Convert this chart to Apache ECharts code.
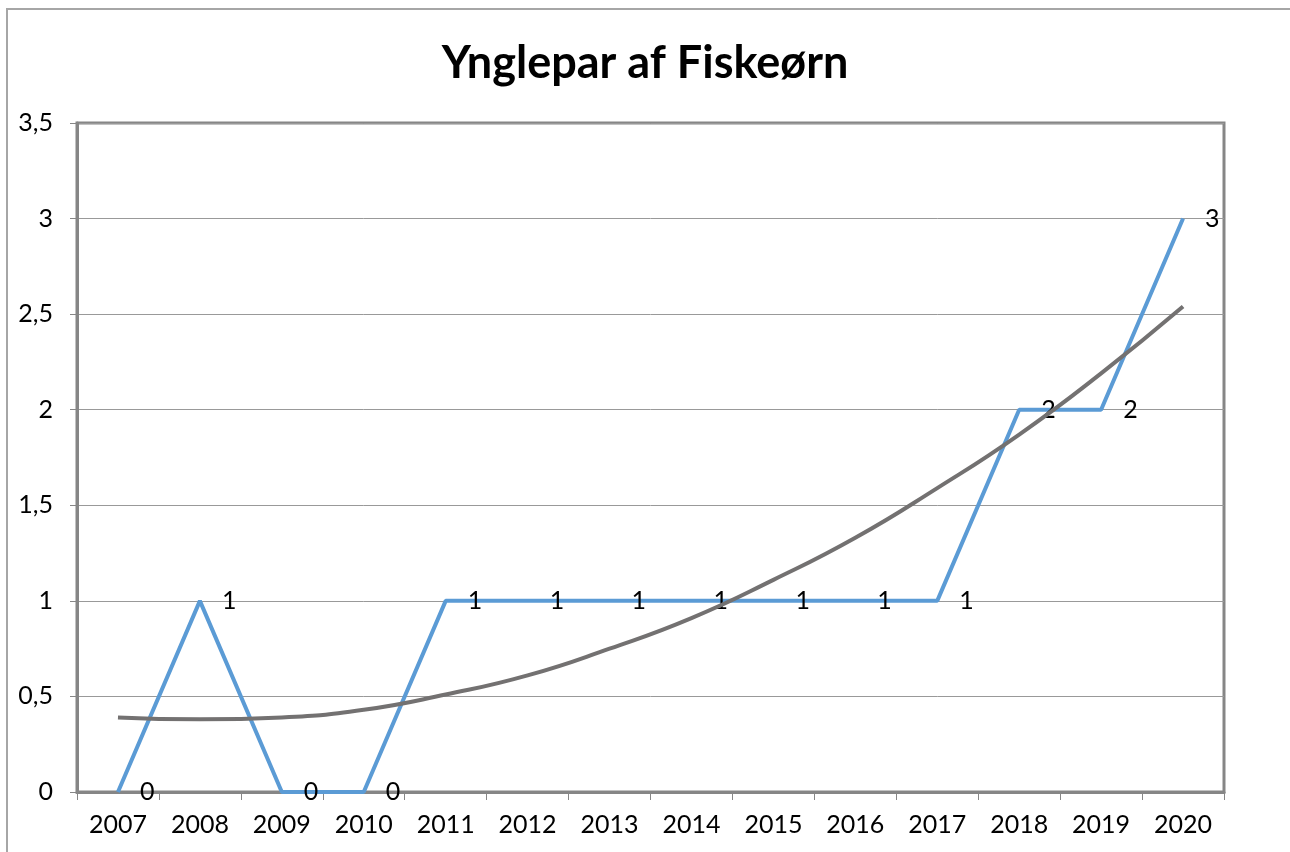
<!DOCTYPE html>
<html>
<head>
<meta charset="utf-8">
<title>Ynglepar af Fiskeørn</title>
<script src="https://cdn.jsdelivr.net/npm/echarts@6/dist/echarts.min.js"></script>
<style>
  html, body { margin: 0; padding: 0; background: #fff; }
  #main { width: 1290px; height: 852px; }
</style>
</head>
<body>
<div id="main"></div>
<script>
// years on the category axis
var years = ['2007', '2008', '2009', '2010', '2011', '2012', '2013', '2014', '2015', '2016', '2017', '2018', '2019', '2020'];
// breeding pairs per year
var pairs = [0, 1, 0, 0, 1, 1, 1, 1, 1, 1, 1, 2, 2, 3];
// polynomial trend line at each year
var trend = [0.39, 0.38, 0.39, 0.43, 0.51, 0.61, 0.75, 0.91, 1.11, 1.33, 1.59, 1.87, 2.19, 2.54];

var myChart = echarts.init(document.getElementById('main'));
var font = 'Lato, "Open Sans", sans-serif';

var option = {
    animation: false,
    backgroundColor: '#fff',
    textStyle: { fontFamily: font },
    title: {
        text: 'Ynglepar af Fiskeørn',
        left: 'center',
        top: 36,
        textStyle: { fontFamily: font, fontSize: 45, fontWeight: 'bold', color: '#000' }
    },
    graphic: [{
        type: 'rect',
        shape: { x: 7, y: 9, width: 1400, height: 1000 },
        style: { fill: 'none', stroke: '#a6a6a6', lineWidth: 2 },
        silent: true
    }],
    grid: {
        left: 77, right: 66, top: 123, bottom: 60,
        show: true,
        borderColor: '#868686',
        borderWidth: 3
    },
    xAxis: {
        type: 'category',
        data: years,
        boundaryGap: true,
        axisLine: { lineStyle: { color: '#868686', width: 3 } },
        axisTick: { show: true, length: 8, lineStyle: { color: '#868686', width: 1 } },
        axisLabel: { color: '#000', fontSize: 25, margin: 20, fontFamily: font }
    },
    yAxis: {
        type: 'value',
        min: 0, max: 3.5, interval: 0.5,
        axisLine: { show: true, lineStyle: { color: '#868686', width: 3 } },
        axisTick: { show: true, length: 7, lineStyle: { color: '#868686', width: 1 } },
        splitLine: { lineStyle: { color: '#999999', width: 1 } },
        axisLabel: {
            color: '#000', fontSize: 25, margin: 24, fontFamily: font,
            formatter: function (v) { return String(v).replace('.', ','); }
        }
    },
    series: [{
        name: 'Ynglepar',
        type: 'line',
        data: pairs,
        symbol: 'circle',
        symbolSize: 0.1,
        showSymbol: true,
        lineStyle: { color: '#5b9bd5', width: 4 },
        itemStyle: { color: '#5b9bd5' },
        label: {
            show: true, position: 'right', distance: 22,
            color: '#000', fontSize: 25, fontFamily: font
        },
        z: 2
    }, {
        name: 'Tendens',
        type: 'line',
        data: trend,
        smooth: true,
        symbol: 'none',
        lineStyle: { color: '#737171', width: 4 },
        z: 3
    }]
};
myChart.setOption(option);
</script>
</body>
</html>
